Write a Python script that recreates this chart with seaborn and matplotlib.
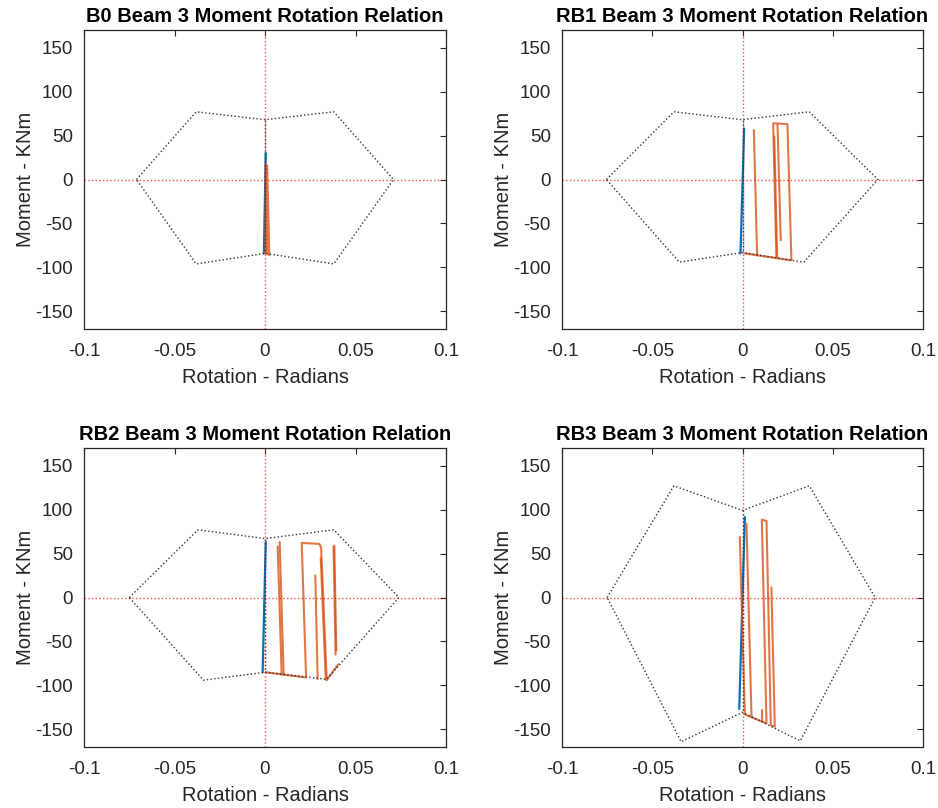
import numpy as np
import pandas as pd
import matplotlib
matplotlib.use("Agg")
import matplotlib.pyplot as plt
import seaborn as sns

# ---------------- data ----------------
titles = ["B0 Beam 3 Moment Rotation Relation",
          "RB1 Beam 3 Moment Rotation Relation",
          "RB2 Beam 3 Moment Rotation Relation",
          "RB3 Beam 3 Moment Rotation Relation"]

x_ticks = [-0.1, -0.05, 0, 0.05, 0.1]
x_tick_labels = ["-0.1", "-0.05", "0", "0.05", "0.1"]
y_ticks = [-150, -100, -50, 0, 50, 100, 150]

# capacity envelopes (rotation, moment)
env_b0_x = [-0.071, -0.038, 0.0, 0.038, 0.071, 0.038, 0.0, -0.038, -0.071]
env_b0_y = [0, 77, 68, 77, 0, -96, -84, -96, 0]
env_rb1_x = [-0.0754, -0.038, 0.0, 0.037, 0.075, 0.034, 0.0, -0.035, -0.0754]
env_rb1_y = [0, 77, 68, 77, 0, -94, -83, -94, 0]
env_rb2_x = [-0.075, -0.037, 0.0, 0.038, 0.074, 0.034, 0.0, -0.034, -0.075]
env_rb2_y = [0, 77, 67, 77, 0, -93, -85, -94, 0]
env_rb3_x = [-0.075, -0.038, 0.0, 0.037, 0.0735, 0.032, 0.0, -0.034, -0.075]
env_rb3_y = [0, 127, 99, 127, 0, -163, -130.5, -164, 0]

# elastic response
blue_b0_x = [-0.0006, 0.0004]
blue_b0_y = [-84, 30]
blue_rb1_x = [-0.0011, 0.0009]
blue_rb1_y = [-84, 58]
blue_rb2_x = [-0.0013, 0.0004]
blue_rb2_y = [-85, 63]
blue_rb3_x = [-0.0018, 0.0013]
blue_rb3_y = [-126.6, 91.5]

# hysteretic response, as lists of polylines
orange_b0 = [
    ([0.0002, 0.0004, 0.0012, 0.0024, 0.0016, 0.0008, 0.0006],
     [-84, 16, 16, -86, -85, 12, -84]),
]
orange_rb1 = [
    ([0.0010, 0.0081, 0.0063], [-84, -86.2, 56]),
    ([0.0081, 0.0188, 0.0170, 0.0249, 0.0271, 0.0188],
     [-86.2, -89.4, 64, 63, -92, -89.4]),
    ([0.0176, 0.0192], [49, -89.5]),
    ([0.0194, 0.0212], [62, -69]),
]
orange_rb2 = [
    ([0.0003, 0.0092, 0.0070], [-85, -87.4, 58]),
    ([0.0092, 0.0103, 0.0081], [-87.4, -87.7, 63]),
    ([0.0103, 0.0227, 0.0203, 0.0300, 0.0310, 0.0341, 0.0405],
     [-87.7, -91, 62, 61, 57, -94, -76]),
    ([0.0278, 0.0291], [25, -92.7]),
    ([0.0308, 0.0336], [45, -93.5]),
    ([0.0379, 0.0390], [58, -65]),
    ([0.0383, 0.0394], [59, -60]),
]
orange_rb3 = [
    ([-0.0015, 0.0013, 0.0050, 0.0022], [69, -133, -136.1, 84]),
    ([0.0050, 0.0133, 0.0107, 0.0133, 0.0157, 0.0179, 0.0160],
     [-136.1, -143.1, 88.5, 87, -145.1, -147, 11.5]),
    ([0.0107, 0.0107], [-128, -141]),
]

envelopes = [(env_b0_x, env_b0_y), (env_rb1_x, env_rb1_y),
             (env_rb2_x, env_rb2_y), (env_rb3_x, env_rb3_y)]
blues = [(blue_b0_x, blue_b0_y), (blue_rb1_x, blue_rb1_y),
         (blue_rb2_x, blue_rb2_y), (blue_rb3_x, blue_rb3_y)]
oranges = [orange_b0, orange_rb1, orange_rb2, orange_rb3]

# ---------------- style ----------------
sns.set_theme(style="white")
plt.rcParams["font.family"] = ["Liberation Sans", "DejaVu Sans"]
plt.rcParams["axes.unicode_minus"] = False
TXT = "#262626"
BLUE = "#0072BD"
ORANGE = "#D95319"

fig = plt.figure(figsize=(9.38, 8.08), dpi=100)
W, H = 938, 808
boxes = [(84, 30, 446, 329), (562, 30, 923, 329),
         (84, 448, 446, 747), (562, 448, 923, 747)]

for i, (l, t, r, b) in enumerate(boxes):
    ax = fig.add_axes([l / W, 1 - b / H, (r - l) / W, (b - t) / H])

    # elastic branch
    bx, by = blues[i]
    sns.lineplot(x=bx, y=by, ax=ax, color=BLUE, lw=1.6, sort=False,
                 estimator=None)

    # hysteresis loops
    rows = []
    for k, (sx, sy) in enumerate(oranges[i]):
        for j, (xv, yv) in enumerate(zip(sx, sy)):
            rows.append({"rot": xv, "mom": yv, "seg": k, "ord": j})
    df = pd.DataFrame(rows)
    sns.lineplot(data=df, x="rot", y="mom", units="seg", estimator=None,
                 sort=False, ax=ax, color=ORANGE, alpha=0.8, lw=1.5)

    # envelope with its centre split line
    ex, ey = envelopes[i]
    sns.lineplot(x=ex, y=ey, ax=ax, color="#333333", lw=1.0, linestyle=":",
                 sort=False, estimator=None)
    sns.lineplot(x=[0, 0], y=[ey[2], ey[6]], ax=ax, color="#333333", lw=1.0,
                 linestyle=":", sort=False, estimator=None)

    # zero axes
    sns.lineplot(x=[-0.1, 0.1], y=[0, 0], ax=ax, color="red", alpha=0.7,
                 lw=1.0, linestyle=":", sort=False, estimator=None)
    sns.lineplot(x=[0, 0], y=[-170, 170], ax=ax, color="red", alpha=0.7,
                 lw=1.0, linestyle=":", sort=False, estimator=None)

    ax.set_xlim(-0.1, 0.1)
    ax.set_ylim(-170, 170)
    ax.set_xticks(x_ticks)
    ax.set_xticklabels(x_tick_labels)
    ax.set_yticks(y_ticks)
    ax.tick_params(direction="in", length=4, width=0.8, colors=TXT,
                   labelsize=13.5, top=True, right=True,
                   labeltop=False, labelright=False)
    ax.tick_params(axis="x", pad=10)
    ax.tick_params(axis="y", pad=8)
    for s in ax.spines.values():
        s.set_color(TXT)
        s.set_linewidth(0.9)
    ax.set_xlabel("Rotation - Radians", fontsize=14.5, color=TXT, labelpad=6)
    ax.set_ylabel("Moment - KNm", fontsize=14.5, color=TXT, labelpad=0)
    ax.set_title(titles[i], fontsize=14.5, fontweight="bold", color="black",
                 pad=6)

fig.savefig("out.png", dpi=100, facecolor="white")
